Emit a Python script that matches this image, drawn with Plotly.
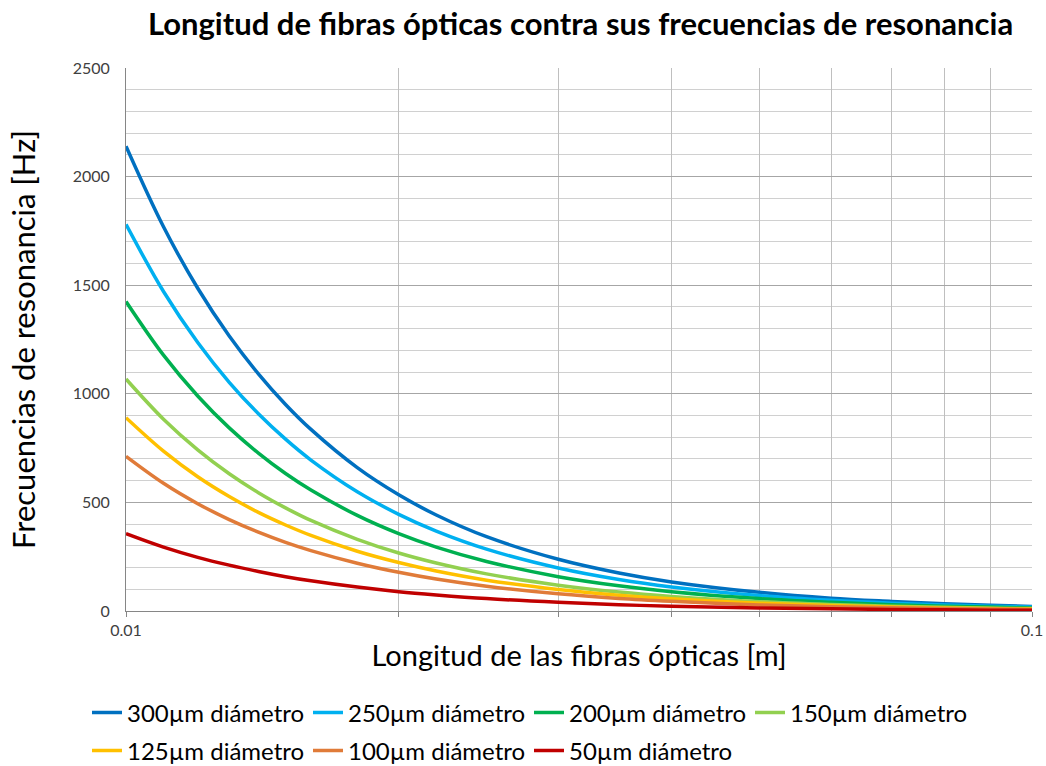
import plotly.graph_objects as go

longitud = [0.010, 0.011, 0.012, 0.013, 0.014, 0.015, 0.016, 0.018, 0.020, 0.022,
            0.025, 0.030, 0.035, 0.040, 0.050, 0.060, 0.070, 0.080, 0.090, 0.100]

f_300 = [2140, 1769, 1486, 1266, 1092, 951, 836, 660, 535, 442, 342, 238, 175, 134, 86, 59, 44, 33, 26, 21]
f_250 = [1780, 1471, 1236, 1053, 908, 791, 695, 549, 445, 368, 285, 198, 145, 111, 71, 49, 36, 28, 22, 18]
f_200 = [1425, 1178, 990, 843, 727, 633, 557, 440, 356, 294, 228, 158, 116, 89, 57, 40, 29, 22, 18, 14]
f_150 = [1068, 883, 742, 632, 545, 475, 417, 330, 267, 221, 171, 119, 87, 67, 43, 30, 22, 17, 13, 11]
f_125 = [890, 736, 618, 527, 454, 396, 348, 275, 223, 184, 142, 99, 73, 56, 36, 25, 18, 14, 11, 9]
f_100 = [712, 588, 494, 421, 363, 316, 278, 220, 178, 147, 114, 79, 58, 45, 28, 20, 15, 11, 9, 7]
f_50 = [356, 294, 247, 211, 182, 158, 139, 110, 89, 74, 57, 40, 29, 22, 14, 10, 7, 6, 4, 4]

series_names = ["300µm diámetro", "250µm diámetro", "200µm diámetro", "150µm diámetro",
                "125µm diámetro", "100µm diámetro", "50µm diámetro"]
series_values = [f_300, f_250, f_200, f_150, f_125, f_100, f_50]
colors = ["#0070C0", "#00B0F0", "#00B050", "#92D050", "#FFC000", "#E07B39", "#C00000"]

x_tickvals = [0.01, 0.02, 0.03, 0.04, 0.05, 0.06, 0.07, 0.08, 0.09, 0.1]
x_ticktext = ["0.01", "", "", "", "", "", "", "", "", "0.1"]

FONT = "Lato"

fig = go.Figure()
for i, (name, vals, col) in enumerate(zip(series_names, series_values, colors)):
    fig.add_trace(go.Scatter(
        x=longitud, y=vals, name=name, mode="lines",
        line=dict(color=col, width=3.5, shape="spline", smoothing=1.0),
        legend="legend" if i < 4 else "legend2",
    ))

leg_x = (87 - 126) / 906

fig.update_layout(
    width=1046, height=766,
    paper_bgcolor="white", plot_bgcolor="white",
    margin=dict(l=126, r=14, t=68, b=155, autoexpand=False),
    title=dict(text="<b>Longitud de fibras ópticas contra sus frecuencias de resonancia</b>",
               x=0.555, xanchor="center", y=1 - 24 / 766, yanchor="middle",
               font=dict(family=FONT, size=31, color="black")),
    font=dict(family=FONT, color="#404040"),
    xaxis=dict(
        type="log", range=[-2, -1], automargin=False,
        tickvals=x_tickvals, ticktext=x_ticktext,
        showgrid=True, gridcolor="#BFBFBF", gridwidth=1,
        showline=True, linecolor="#868686", linewidth=1,
        ticks="outside", ticklen=5, tickcolor="#868686",
        tickfont=dict(size=16, color="#404040"),
        title=dict(text="Longitud de las fibras ópticas [m]",
                   font=dict(family=FONT, size=29, color="black"), standoff=7),
        zeroline=False,
    ),
    yaxis=dict(
        range=[0, 2500], dtick=500, tick0=0, automargin=False,
        showgrid=True, gridcolor="#A6A6A6", gridwidth=1,
        minor=dict(dtick=100, showgrid=True, gridcolor="#D0D0D0", gridwidth=1),
        showline=True, linecolor="#868686", linewidth=1,
        ticks="outside", ticklen=0, tickcolor="white", ticklabelstandoff=12,
        tickfont=dict(size=16, color="#404040"),
        title=dict(text="Frecuencias de resonancia [Hz]",
                   font=dict(family=FONT, size=31, color="black"), standoff=27),
        zeroline=False,
    ),
    legend=dict(orientation="h", x=leg_x, xanchor="left", y=1 - (713 - 68) / 543,
                yanchor="middle", font=dict(size=24, color="black"),
                entrywidth=176, entrywidthmode="pixels", bgcolor="rgba(0,0,0,0)"),
    legend2=dict(orientation="h", x=leg_x, xanchor="left", y=1 - (751 - 68) / 543,
                 yanchor="middle", font=dict(size=24, color="black"),
                 entrywidth=176, entrywidthmode="pixels", bgcolor="rgba(0,0,0,0)"),
)

fig.write_html("out.html", config={"displayModeBar": False},
               post_script="document.body.style.margin='0';")
